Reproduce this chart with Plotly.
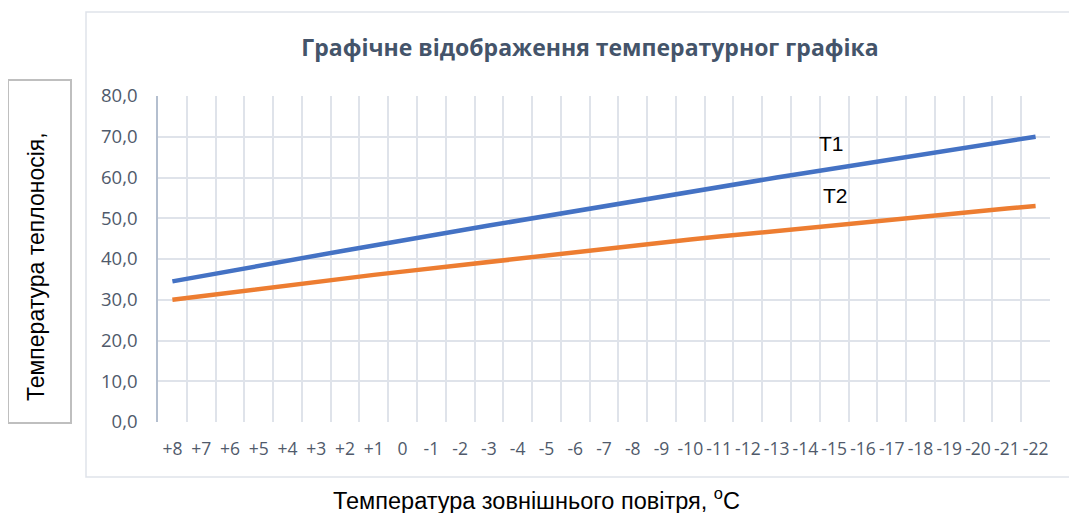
import plotly.graph_objects as go

categories = ["+8", "+7", "+6", "+5", "+4", "+3", "+2", "+1", "0", "-1", "-2", "-3", "-4",
              "-5", "-6", "-7", "-8", "-9", "-10", "-11", "-12", "-13", "-14", "-15", "-16",
              "-17", "-18", "-19", "-20", "-21", "-22"]
t1_values = [34.5, 35.8, 37.1, 38.3, 39.6, 40.8, 42.1, 43.3, 44.6, 45.8, 47.0, 48.2, 49.4,
             50.6, 51.8, 53.0, 54.2, 55.3, 56.5, 57.7, 58.8, 60.0, 61.1, 62.2, 63.4,
             64.5, 65.6, 66.7, 67.8, 68.9, 70.0]
t2_values = [30.0, 30.9, 31.8, 32.7, 33.5, 34.4, 35.2, 36.1, 36.9, 37.7, 38.6, 39.4, 40.2,
             40.9, 41.7, 42.5, 43.3, 44.0, 44.8, 45.5, 46.2, 46.9, 47.7, 48.3, 49.0,
             49.7, 50.4, 51.1, 51.7, 52.4, 53.0]
series_names = ["T1", "T2"]
y_ticks = [0, 10, 20, 30, 40, 50, 60, 70, 80]

# page body has an 8px margin; work in screen pixels and shift by it
OFF = 8
W, H = 1077 - OFF, 513 - OFF
PL, PR, PT, PB = 158, 1050, 96, 422          # plot area in screen pixels
L, T = PL - OFF, PT - OFF
R, B = W - (PR - OFF), H - (PB - OFF)
PW, PH = W - L - R, H - T - B


def px(x):
    return (x - OFF - L) / PW


def py(y):
    return 1 - (y - OFF - T) / PH


fig = go.Figure()
fig.add_trace(go.Scatter(x=categories, y=t1_values, mode="lines", name=series_names[0],
                         line=dict(color="#4472C4", width=4.5)))
fig.add_trace(go.Scatter(x=categories, y=t2_values, mode="lines", name=series_names[1],
                         line=dict(color="#ED7D31", width=4.5)))

grid = "#DFE3EA"
tickcol = "#505A6B"
fig.update_layout(
    width=W, height=H,
    margin=dict(l=L, r=R, t=T, b=B),
    paper_bgcolor="white", plot_bgcolor="white",
    showlegend=False,
    separators=", ",
    title=dict(text="<b>Графічне відображення температурног графіка</b>",
               x=px(590), xanchor="center", xref="paper",
               y=1 - (48 - OFF) / H, yanchor="middle",
               font=dict(family="Open Sans", size=23, color="#44546A")),
    xaxis=dict(type="category", range=[-0.5, len(categories) - 0.5],
               tickson="boundaries", showgrid=True, gridcolor=grid, gridwidth=1.5,
               ticks="", showline=False, zeroline=False, tickangle=0,
               tickfont=dict(family="Open Sans", size=17.5, color=tickcol),
               ticklabelstandoff=14),
    yaxis=dict(range=[0, 80], tickvals=y_ticks, tickformat=".1f",
               showgrid=True, gridcolor=grid, gridwidth=1.5,
               showline=True, linecolor="#B4BFCF", linewidth=1.5,
               zeroline=False, ticks="",
               tickfont=dict(family="Open Sans", size=18.5, color=tickcol),
               ticklabelstandoff=15),
)

shapes = [
    dict(type="rect", xref="paper", yref="paper",
         x0=px(86), x1=px(1090), y0=py(477), y1=py(12),
         line=dict(color="#DFE3EA", width=1.5), fillcolor="rgba(0,0,0,0)", layer="below"),
    dict(type="rect", xref="paper", yref="paper",
         x0=px(8), x1=px(71), y0=py(423), y1=py(80),
         line=dict(color="#BFBFBF", width=2), fillcolor="rgba(0,0,0,0)"),
]
fig.update_layout(shapes=shapes)

fig.add_annotation(x=22.9, y=68.4, xref="x", yref="y", text=series_names[0], showarrow=False,
                   xanchor="center", yanchor="middle",
                   font=dict(family="Liberation Sans", size=21, color="black"))
fig.add_annotation(x=23.05, y=55.6, xref="x", yref="y", text=series_names[1], showarrow=False,
                   xanchor="center", yanchor="middle",
                   font=dict(family="Liberation Sans", size=21, color="black"))
fig.add_annotation(x=px(36), y=py(267), xref="paper", yref="paper",
                   xanchor="center", yanchor="middle",
                   text="Температура теплоносія,", textangle=-90, showarrow=False,
                   font=dict(family="Liberation Sans", size=23, color="black"))
fig.add_annotation(x=px(536), y=py(499), xref="paper", yref="paper",
                   xanchor="center", yanchor="middle",
                   text="Температура зовнішнього повітря, <sup>o</sup>C", showarrow=False,
                   font=dict(family="Liberation Sans", size=23.5, color="black"))

fig.write_html("out.html")
